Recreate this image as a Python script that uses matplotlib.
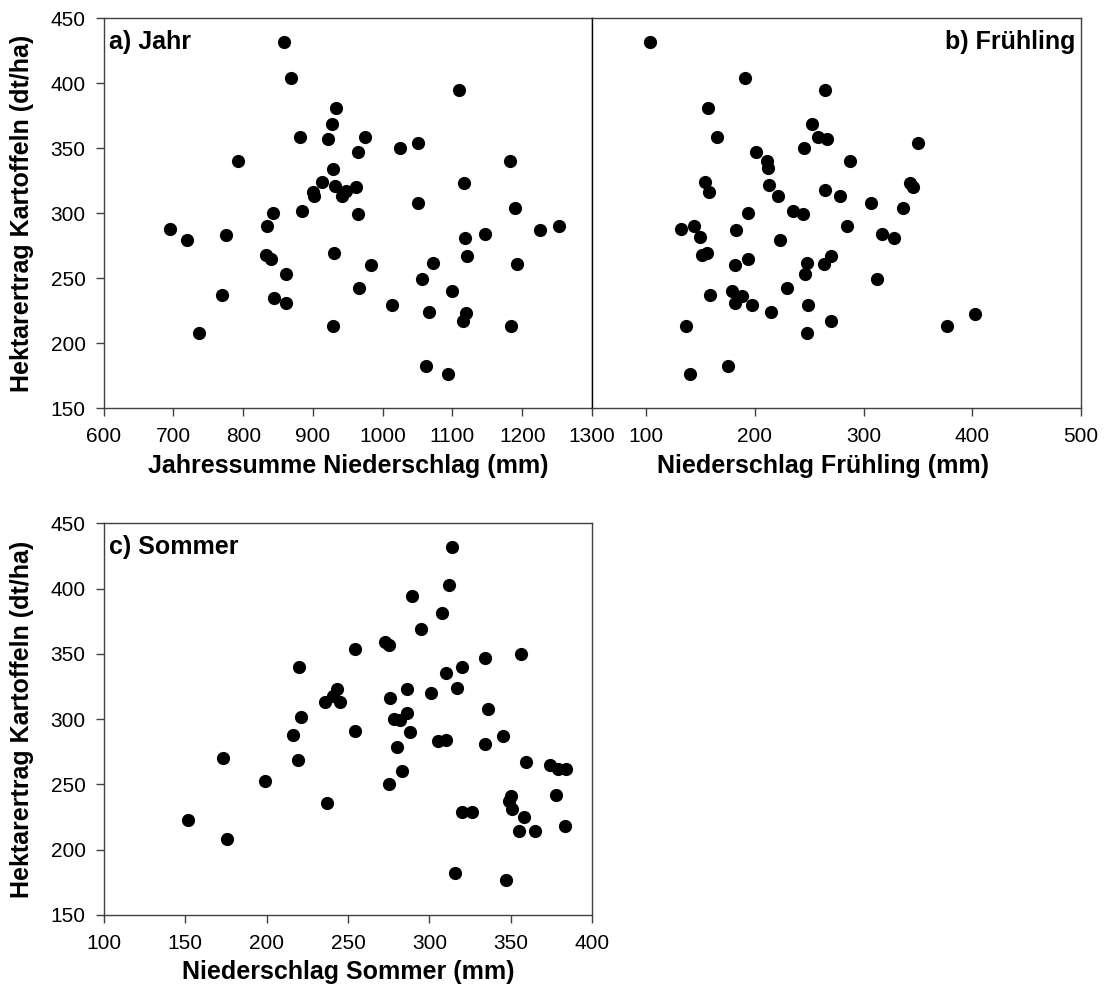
import matplotlib
matplotlib.use("Agg")
import matplotlib.pyplot as plt

plt.rcParams['font.family'] = ['Liberation Sans', 'DejaVu Sans']

# a) annual precipitation (mm) vs. potato yield (dt/ha)
jahr_x = [858, 869, 933, 927, 881, 922, 975, 965, 793, 929, 913, 931, 900, 902, 942,
          948, 962, 964, 884, 842, 834, 695, 719, 775, 832, 840, 930, 983, 861, 770,
          844, 861, 966, 736, 929, 1014, 1025, 1051, 1109, 1183, 1116, 1050, 1189, 1225,
          1252, 1147, 1118, 1121, 1072, 1193, 1057, 1100, 1066, 1119, 1115, 1184, 1062, 1094]
jahr_y = [432, 404, 381, 369, 359, 357, 359, 347, 340, 334, 324, 321, 316, 313, 313,
          317, 320, 299, 302, 300, 290, 288, 279, 283, 268, 265, 269, 260, 253, 237,
          235, 231, 242, 208, 213, 229, 350, 354, 395, 340, 323, 308, 304, 287,
          290, 284, 281, 267, 262, 261, 249, 240, 224, 223, 217, 213, 182, 176]

# b) spring precipitation
fruehling_x = [103, 191, 157, 165, 201, 211, 212, 154, 158, 213, 194, 132, 144, 149, 183,
               151, 156, 194, 182, 159, 179, 188, 182, 197, 215, 137, 175, 140,
               265, 253, 258, 266, 245, 350, 288, 221, 265, 278, 343, 346, 307, 336,
               235, 244, 285, 317, 328, 223, 248, 264, 270, 246, 312, 230, 249, 270,
               248, 377, 403]
fruehling_y = [432, 404, 381, 359, 347, 340, 335, 324, 316, 322, 300, 288, 290, 282, 287,
               268, 269, 265, 260, 237, 240, 236, 231, 229, 224, 213, 182, 176,
               395, 369, 359, 357, 350, 354, 340, 313, 318, 313, 323, 320, 308, 304,
               302, 299, 290, 284, 281, 279, 262, 261, 267, 253, 249, 242, 229, 217,
               208, 213, 222]

# c) summer precipitation
sommer_x = [152, 176, 173, 199, 216, 219, 221, 220, 237, 236, 243, 241, 245,
            314, 312, 289, 308, 295, 273, 275, 254, 334, 356, 320, 310, 317, 286, 301,
            276, 286, 278, 282, 336, 288, 254, 305, 310, 334, 345, 280, 359, 374, 379,
            384, 283, 275, 378, 350, 349, 351, 320, 326, 358, 355, 365, 383, 316, 347]
sommer_y = [223, 208, 270, 253, 288, 269, 302, 340, 236, 313, 323, 318, 313,
            432, 403, 394, 381, 369, 359, 357, 354, 347, 350, 340, 335, 324, 323, 320,
            316, 305, 300, 299, 308, 290, 291, 283, 284, 281, 287, 279, 267, 265, 262,
            262, 260, 250, 242, 241, 237, 231, 229, 229, 225, 214, 214, 218, 182, 177]

ylabel = 'Hektarertrag Kartoffeln (dt/ha)'
yticks = [150, 200, 250, 300, 350, 400, 450]

fig = plt.figure(figsize=(11.04, 9.85), dpi=100)
W, H = 1104, 985


def make_axes(left, top, right, bottom):
    return fig.add_axes([left / W, 1 - bottom / H, (right - left) / W, (bottom - top) / H])


def style(ax, xlim, xticks, show_y=True):
    ax.set_xlim(*xlim)
    ax.set_ylim(150, 450)
    ax.set_xticks(xticks)
    ax.set_yticks(yticks)
    for s in ax.spines.values():
        s.set_color('#404040')
        s.set_linewidth(1.0)
    ax.tick_params(axis='x', direction='out', length=6, width=1, color='#404040',
                   labelsize=15, pad=8, top=False)
    ax.tick_params(axis='y', direction='out', length=6, width=1, color='#404040',
                   labelsize=15, pad=7, right=False)
    if show_y:
        ax.set_ylabel(ylabel, fontsize=18, fontweight='bold')
        ax.yaxis.set_label_coords(-82 / 488, 0.5)
        ax.yaxis.label.set_va('center')
    else:
        ax.tick_params(axis='y', left=False, labelleft=False)


ax_a = make_axes(103.7, 18.3, 592, 408)
ax_b = make_axes(592, 18.3, 1080.7, 408)
ax_c = make_axes(103.7, 523.3, 592.3, 915)

ax_a.scatter(jahr_x, jahr_y, s=72, color='black', zorder=3)
style(ax_a, (600, 1300), range(600, 1301, 100))
ax_a.set_xlabel('Jahressumme Niederschlag (mm)', fontsize=18, fontweight='bold')
ax_a.xaxis.set_label_coords(0.5, -58 / 390)
ax_a.xaxis.label.set_va('center')
ax_a.text(0.01, 0.94, 'a) Jahr', transform=ax_a.transAxes, fontsize=18,
          fontweight='bold', va='center', ha='left')

ax_b.scatter(fruehling_x, fruehling_y, s=72, color='black', zorder=3)
style(ax_b, (50, 500), range(100, 501, 100), show_y=False)
ax_b.spines['left'].set_color('black')
ax_b.set_xlabel('Niederschlag Frühling (mm)', fontsize=18, fontweight='bold')
ax_b.xaxis.set_label_coords(0.473, -58 / 390)
ax_b.xaxis.label.set_va('center')
ax_b.text(0.99, 0.94, 'b) Frühling', transform=ax_b.transAxes, fontsize=18,
          fontweight='bold', va='center', ha='right')

ax_c.scatter(sommer_x, sommer_y, s=72, color='black', zorder=3)
style(ax_c, (100, 400), range(100, 401, 50))
ax_c.set_xlabel('Niederschlag Sommer (mm)', fontsize=18, fontweight='bold')
ax_c.xaxis.set_label_coords(0.5, -57 / 392)
ax_c.xaxis.label.set_va('center')
ax_c.text(0.01, 0.94, 'c) Sommer', transform=ax_c.transAxes, fontsize=18,
          fontweight='bold', va='center', ha='left')

fig.savefig('out.png', dpi=100)
